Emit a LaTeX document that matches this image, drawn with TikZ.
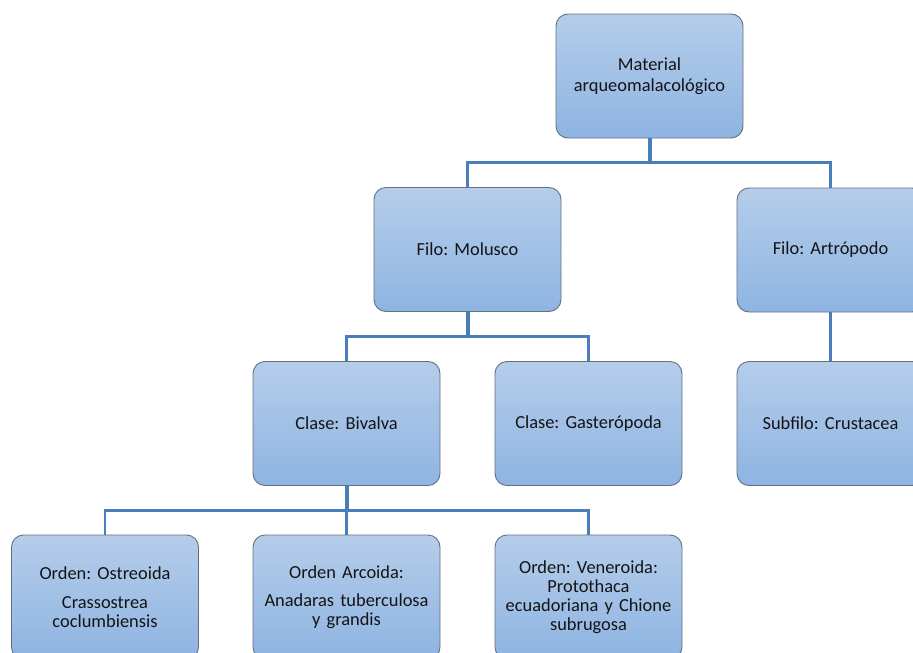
\documentclass[tikz,border=0pt]{standalone}
\usepackage{fontspec}
\setmainfont{Carlito}
\usetikzlibrary{calc}
\definecolor{linkc}{RGB}{74,126,187}
\definecolor{boxtop}{RGB}{181,205,234}
\definecolor{boxbot}{RGB}{142,180,226}
\definecolor{boxedge}{RGB}{100,112,130}
\definecolor{txt}{RGB}{20,20,20}
\tikzset{
  tbox/.style={rectangle, rounded corners=12pt, draw=boxedge, line width=0.9pt,
    top color=boxtop, bottom color=boxbot, minimum width=187pt, minimum height=124pt,
    text width=178pt, align=center, inner sep=0pt, text=txt,
    font=\frenchspacing\fontsize{18.4}{20.7}\selectfont},
  lbox/.style={tbox, font=\frenchspacing\fontsize{18.4}{18.8}\selectfont},
  trunk/.style={draw=linkc, line width=4pt},
  branch/.style={draw=linkc, line width=2.6pt}
}
\begin{document}
\begin{tikzpicture}[x=1pt,y=-1pt]
\clip (0,0) rectangle (913,653);
\fill[white] (0,0) rectangle (913,653);
% nodes
\node[tbox] (top) at (649.5,76) {Material\\arqueomalacológico};
\node[tbox] (molusco) at (467.5,249.5) {Filo: Molusco};
\node[tbox] (artropodo) at (830.5,250) {Filo: Artrópodo};
\node[tbox] (bivalva) at (346.5,423.5) {Clase: Bivalva};
\node[tbox] (gaster) at (588.5,423.5) {Clase: Gasterópoda};
\node[tbox] (crust) at (830.5,423.5) {Subfilo: Crustacea};
\node[lbox] (ostre) at (105,597) {Orden: Ostreoida\\[10pt]Crassostrea\\coclumbiensis};
\node[lbox] (arco) at (346.5,597) {Orden Arcoida:\\[10pt]Anadaras tuberculosa\\y grandis};
\node[lbox] (vene) at (588.5,597) {Orden: Veneroida:\\Protothaca\\ecuadoriana y Chione\\subrugosa};
% junctions
\coordinate (j1) at ($(top.south)!0.5!(molusco.north)$);
\coordinate (j2) at ($(molusco.south)!0.5!(bivalva.north)$);
\coordinate (j3) at ($(bivalva.south)!0.5!(ostre.north)$);
% connectors
\draw[branch] (top.south |- j1) -| (molusco.north);
\draw[branch] (top.south |- j1) -| (artropodo.north);
\draw[trunk] (top.south) -- (top.south |- j1);
\draw[branch] (artropodo.south) -- (crust.north);
\draw[branch] (molusco.south |- j2) -| (bivalva.north);
\draw[branch] (molusco.south |- j2) -| (gaster.north);
\draw[trunk] (molusco.south) -- (molusco.south |- j2);
\draw[branch] (bivalva.south |- j3) -| (ostre.north);
\draw[branch] (bivalva.south |- j3) -- (arco.north);
\draw[branch] (bivalva.south |- j3) -| (vene.north);
\draw[trunk] (bivalva.south) -- (bivalva.south |- j3);
\end{tikzpicture}
\end{document}
